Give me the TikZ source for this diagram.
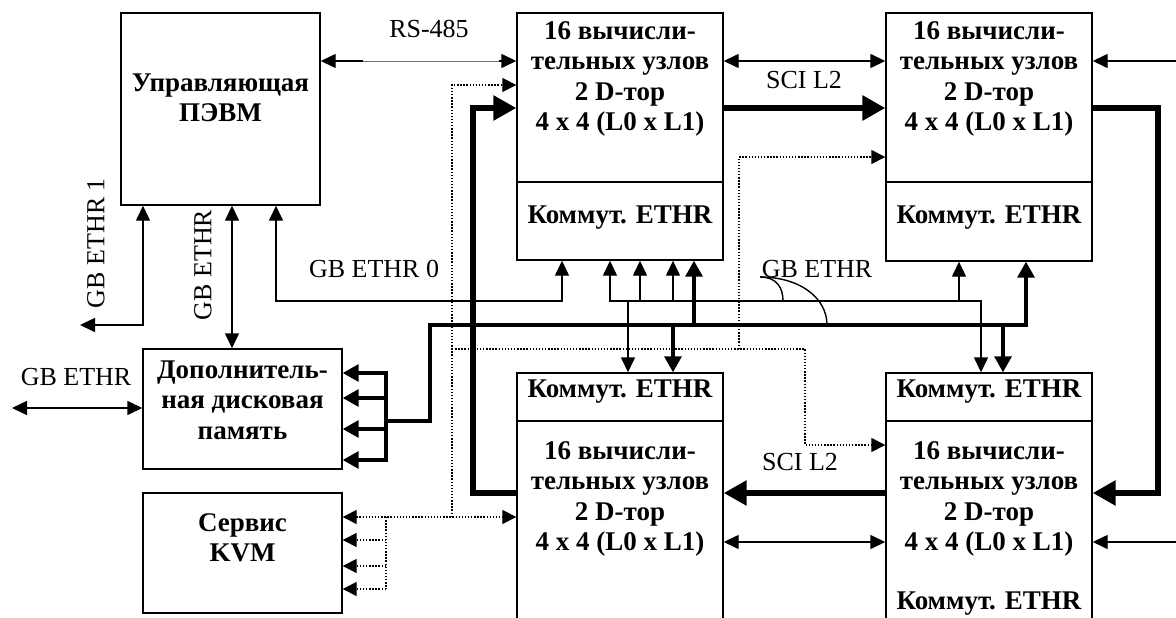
\documentclass[tikz,border=0pt]{standalone}
\usepackage{fontspec}
\setmainfont{Liberation Serif}
\usetikzlibrary{arrows.meta}
\begin{document}
\begin{tikzpicture}[x=1pt,y=-1pt,
  box/.style={draw, line width=1.4pt, inner sep=0pt, minimum width=206pt},
  bt/.style={font=\bfseries\fontsize{27}{30.5}\selectfont, align=center, inner sep=0pt},
  lt/.style={font=\fontsize{26}{30}\selectfont, inner sep=0pt},
  ln/.style={line width=1.4pt, >={Triangle[length=15pt,width=14pt]}},
  bus/.style={line width=3.4pt, >={Triangle[length=16pt,width=17pt]}},
  ring/.style={line width=6.5pt, line join=miter, >={Triangle[length=23pt,width=24pt]}},
  dots/.style={line width=1.4pt, dash pattern=on 1.4pt off 1.7pt, >={Triangle[length=14pt,width=14pt]}}]
\useasboundingbox (0,0) rectangle (1176,618);
\clip (0,0) rectangle (1176,618);
\fill[white] (0,0) rectangle (1176,618);

% boxes
\node[box, minimum width=199pt, minimum height=192pt] (A) at (220.5,109) {};
\node[box, minimum height=169pt] (B) at (620,97.5) {};
\node[box, minimum height=78pt] (Bs) at (620,221) {};
\node[box, minimum height=169pt] (C) at (989,97.5) {};
\node[box, minimum height=79pt] (Cs) at (989,221.5) {};
\node[box, minimum height=48pt] (Ds) at (620,397) {};
\node[box, minimum height=219pt] (D) at (620,530.5) {};
\node[box, minimum height=48pt] (Es) at (989,397) {};
\node[box, minimum height=219pt] (E) at (989,530.5) {};
\node[box, minimum width=199pt, minimum height=120pt] (F) at (242.5,409) {};
\node[box, minimum width=199pt, minimum height=120pt] (G) at (242.5,553) {};

% box texts
\node[bt] (At) at (220.5,98) {Управляющая\\ПЭВМ};
\node[bt] (Bt) at (620,79) {16 вычисли-\\тельных узлов\\2 D-тор\\4 x 4 (L0 x L1)};
\node[bt] (Ct) at (989,79) {16 вычисли-\\тельных узлов\\2 D-тор\\4 x 4 (L0 x L1)};
\node[bt] (Dt) at (620,499) {16 вычисли-\\тельных узлов\\2 D-тор\\4 x 4 (L0 x L1)};
\node[bt] (Et) at (989,499) {16 вычисли-\\тельных узлов\\2 D-тор\\4 x 4 (L0 x L1)};
\node[bt] (Bst) at (620,218) {Коммут. ETHR};
\node[bt] (Cst) at (989,218) {Коммут. ETHR};
\node[bt] (Dst) at (620,392) {Коммут. ETHR};
\node[bt] (Est) at (989,392) {Коммут. ETHR};
\node[bt] (Est2) at (989,604) {Коммут. ETHR};
\node[bt] (Ft) at (242.5,400) {Дополнитель-\\ная дисковая\\память};
\node[bt] (Gt) at (242.5,538) {Сервис\\KVM};

% labels
\node[lt] (lrs) at (429,29) {RS-485};
\node[lt] (lsci1) at (804,80) {SCI L2};
\node[lt] (lsci2) at (800,462) {SCI L2};
\node[lt] (lg0) at (374,269) {GB ETHR 0};
\node[lt] (lgf) at (76,377) {GB ETHR};
\node[lt, rotate=90] (lg1) at (96,243) {GB ETHR 1};
\node[lt, rotate=90] (lg2) at (203,265) {GB ETHR};
\node[lt] (lgb) at (817,269) {GB ETHR};

% RS-485
\coordinate (rs) at (0,61);
\coordinate (rsa) at (363,61);
\coordinate (rsb) at (499,61);
\draw[line width=0.5pt, black!55] (rsa) -- (rsb);
\draw[ln,<-] (A.east |- rs) -- (rsa);
\draw[ln,->] (rsb) -- (B.west |- rs);

% SCI thin links
\draw[ln,<->] (B.east |- rs) -- (C.west |- rs);
\coordinate (rin1) at (1176,61);
\draw[ln,->] (rin1) -- (C.east |- rin1);
\coordinate (sc2) at (0,542);
\draw[ln,<->] (D.east |- sc2) -- (E.west |- sc2);
\coordinate (rin2) at (1176,542);
\draw[ln,->] (rin2) -- (E.east |- rin2);

% ring (thick)
\coordinate (rg1) at (0,108);
\coordinate (rg2) at (0,493);
\coordinate (rgl) at (473,0);
\coordinate (rgr) at (1158,0);
\draw[ring,->] (D.west |- rg2) -- (rgl |- rg2) -- (rgl |- rg1) -- (B.west |- rg1);
\draw[ring,->] (B.east |- rg1) -- (C.west |- rg1);
\draw[ring,->] (C.east |- rg1) -- (rgr |- rg1) -- (rgr |- rg2) -- (E.east |- rg2);
\draw[ring,->] (E.west |- rg2) -- (D.east |- rg2);

% A bottom links
\coordinate (g1end) at (80,325);
\coordinate (g1c) at (143,325);
\draw[ln,<->] (g1end) -- (g1c) -- (A.south -| g1c);
\coordinate (xaf) at (232,0);
\draw[ln,<->] (A.south -| xaf) -- (F.north -| xaf);
\coordinate (g0a) at (276,301);
\coordinate (g0b) at (562,301);
\draw[ln,<->] (A.south -| g0a) -- (g0a) -- (g0b) -- (Bs.south -| g0b);

% F left
\coordinate (fl) at (12,408);
\draw[ln,<->] (fl) -- (F.west |- fl);

% thin bus
\coordinate (t1) at (610,301);
\coordinate (t2) at (640,301);
\coordinate (t3) at (673,301);
\coordinate (t4) at (959,301);
\coordinate (t5) at (981,301);
\coordinate (td) at (628,301);
\draw[ln,<->] (Bs.south -| t1) -- (t1) -- (t5) -- (Es.north -| t5);
\draw[ln,->] (t2) -- (Bs.south -| t2);
\draw[ln,->] (t3) -- (Bs.south -| t3);
\draw[ln,->] (t4) -- (Cs.south -| t4);
\draw[ln,->] (td) -- (Ds.north -| td);

% thick bus
\coordinate (fan1) at (386,373);
\coordinate (fan4) at (386,460);
\draw[bus, line cap=rect] (fan1) -- (fan4);
\foreach \yy in {373,398,429,460}{
  \coordinate (fy) at (386,\yy);
  \draw[bus,->] (fy) -- (F.east |- fy);
}
\coordinate (b0) at (386,421);
\coordinate (b1) at (430,421);
\coordinate (b2) at (430,325);
\coordinate (b3) at (1026,325);
\coordinate (bb) at (694,325);
\coordinate (bd) at (673,325);
\coordinate (be) at (1003,325);
\draw[bus,->, line join=miter] (b0) -- (b1) -- (b2) -- (b3) -- (Cs.south -| b3);
\draw[bus,->] (bb) -- (Bs.south -| bb);
\draw[bus,->] (bd) -- (Ds.north -| bd);
\draw[bus,->] (be) -- (Es.north -| be);

% GB ETHR brace curves
\coordinate (gc0) at (760,277);
\coordinate (gc1) at (783,301);
\coordinate (gc2) at (827,325);
\draw[line width=1.4pt] (gc0) .. controls (777,277) and (783,288) .. (gc1);
\draw[line width=1.4pt] (gc0) .. controls (800,277) and (827,298) .. (gc2);

% dotted (KVM) network
\coordinate (k1) at (386,517);
\coordinate (k4) at (386,589);
\draw[dots] (k1) -- (k4);
\foreach \yy in {540,566,589}{
  \coordinate (ky) at (386,\yy);
  \draw[dots,->] (ky) -- (G.east |- ky);
}
\draw[dots,<->] (G.east |- k1) -- (D.west |- k1);
\coordinate (dv) at (452,517);
\coordinate (dt) at (452,85);
\draw[dots,->] (dv) -- (dt) -- (B.west |- dt);
\coordinate (dh1) at (452,349);
\coordinate (dh2) at (805,349);
\coordinate (dh3) at (805,445);
\draw[dots,->] (dh1) -- (dh2) -- (dh3) -- (E.west |- dh3);
\coordinate (dc1) at (739,349);
\coordinate (dc2) at (739,157);
\draw[dots,->] (dc1) -- (dc2) -- (C.west |- dc2);
\end{tikzpicture}
\end{document}
